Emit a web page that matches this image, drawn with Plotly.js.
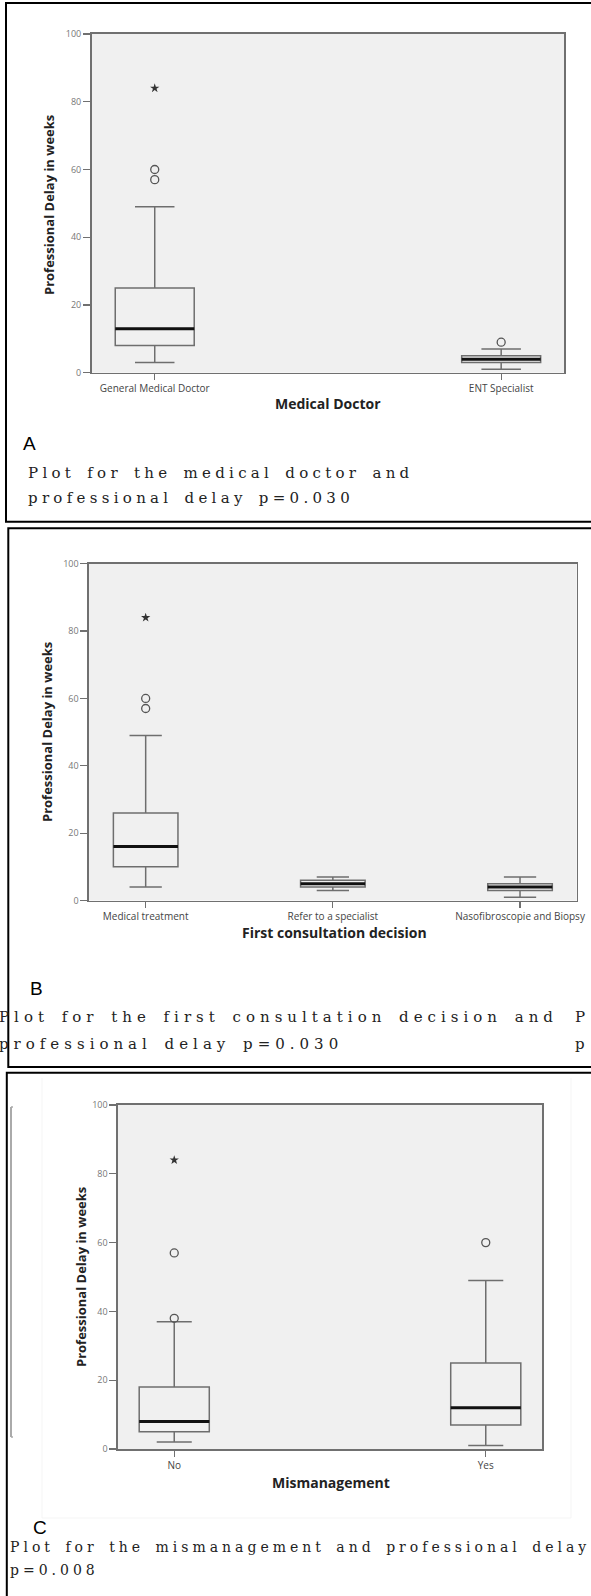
<!DOCTYPE html>
<html><head><meta charset="utf-8">
<script src="https://cdn.plot.ly/plotly-3.0.1.min.js"></script>
<style>html,body{margin:0;padding:0;background:#fff;overflow:hidden}</style>
</head><body><div id="chart" style="width:591px;height:1596px"></div>
<script>
// ---------- data ----------
const catsA = ['General Medical Doctor', 'ENT Specialist'];
const q1A = [8, 3], medA = [13, 4], q3A = [25, 5], loA = [3, 1], hiA = [49, 7];
const outXA = ['General Medical Doctor', 'General Medical Doctor', 'ENT Specialist'];
const outYA = [60, 57, 9];
const extXA = ['General Medical Doctor'], extYA = [84];

const catsB = ['Medical treatment', 'Refer to a specialist', 'Nasofibroscopie and Biopsy'];
const q1B = [10, 4, 3], medB = [16, 5, 4], q3B = [26, 6, 5], loB = [4, 3, 1], hiB = [49, 7, 7];
const outXB = ['Medical treatment', 'Medical treatment'];
const outYB = [60, 57];
const extXB = ['Medical treatment'], extYB = [84];

const catsC = ['No', 'Yes'];
const q1C = [5, 7], medC = [8, 12], q3C = [18, 25], loC = [2, 1], hiC = [37, 49];
const outXC = ['No', 'No', 'Yes'];
const outYC = [38, 57, 60];
const extXC = ['No'], extYC = [84];

const yTicks = [0, 20, 40, 60, 80, 100];
const yTitle = 'Professional Delay in weeks';

// ---------- helpers ----------
const W = 591, H = 1596;
const px = x => x / W;
const py = y => 1 - y / H;

function panelTraces(cats, q1, med, q3, lo, hi, ox, oy, ex, ey, xa, ya, wid) {
  return [
    {type: 'box', x: cats, q1: q1, median: med, q3: q3, lowerfence: lo, upperfence: hi,
     xaxis: xa, yaxis: ya, width: wid, whiskerwidth: 0.5, boxpoints: false,
     fillcolor: 'rgba(0,0,0,0)', line: {color: '#6e6e6e', width: 1.5},
     hoverinfo: 'skip', showlegend: false},
    {type: 'box', x: cats, q1: med, median: med, q3: med, lowerfence: med, upperfence: med,
     xaxis: xa, yaxis: ya, width: wid, whiskerwidth: 0, boxpoints: false,
     fillcolor: 'rgba(0,0,0,0)', line: {color: '#111', width: 3},
     hoverinfo: 'skip', showlegend: false},
    {type: 'scatter', mode: 'markers', x: ox, y: oy, xaxis: xa, yaxis: ya,
     marker: {symbol: 'circle-open', size: 8, color: '#555', line: {width: 1.3, color: '#555'}},
     hoverinfo: 'skip', showlegend: false},
    {type: 'scatter', mode: 'markers', x: ex, y: ey, xaxis: xa, yaxis: ya,
     marker: {symbol: 'star', size: 7, color: '#333'},
     hoverinfo: 'skip', showlegend: false}
  ];
}

const data = [].concat(
  panelTraces(catsA, q1A, medA, q3A, loA, hiA, outXA, outYA, extXA, extYA, 'x', 'y', 0.228),
  panelTraces(catsB, q1B, medB, q3B, loB, hiB, outXB, outYB, extXB, extYB, 'x2', 'y2', 0.345),
  panelTraces(catsC, q1C, medC, q3C, loC, hiC, outXC, outYC, extXC, extYC, 'x3', 'y3', 0.225)
);

function xAxis(dom, anchor, cats) {
  return {domain: dom, anchor: anchor, type: 'category', categoryorder: 'array', categoryarray: cats,
    showline: true, mirror: true, linecolor: '#707070', linewidth: 1.6,
    ticks: 'outside', ticklen: 6, tickcolor: '#707070', tickwidth: 1.2,
    tickfont: {family: 'Open Sans', size: 10, color: '#444'},
    showgrid: false, zeroline: false, fixedrange: true};
}
function yAxis(dom, anchor) {
  return {domain: dom, anchor: anchor, range: [0, 100], tickvals: yTicks,
    showline: true, mirror: true, linecolor: '#707070', linewidth: 1.6,
    ticks: 'outside', ticklen: 7, tickcolor: '#707070', tickwidth: 1.2,
    tickfont: {family: 'Open Sans', size: 9, color: '#777'},
    showgrid: false, zeroline: false, fixedrange: true};
}

const capFont = {family: 'DejaVu Serif', size: 15, color: '#222'};
function cap(text, x, y, sp, size) {
  return {xref: 'paper', yref: 'paper', x: px(x), y: py(y), xanchor: 'left', yanchor: 'middle',
    text: '<span style="letter-spacing:' + sp + 'px;word-spacing:3px">' + text + '</span>', showarrow: false,
    font: Object.assign({}, capFont, {size: size})};
}
function ytitle(x, y) {
  return {xref: 'paper', yref: 'paper', x: px(x), y: py(y), xanchor: 'center', yanchor: 'middle',
    text: yTitle, textangle: -90, showarrow: false,
    font: {family: 'Open Sans', size: 13, color: '#222', weight: 'bold'}};
}
function xtitle(t, x, y) {
  return {xref: 'paper', yref: 'paper', x: px(x), y: py(y), xanchor: 'center', yanchor: 'middle',
    text: '<b>' + t + '</b>', showarrow: false,
    font: {family: 'Open Sans', size: 14, color: '#222'}};
}
function letter(t, x, y) {
  return {xref: 'paper', yref: 'paper', x: px(x), y: py(y), xanchor: 'left', yanchor: 'middle',
    text: t, showarrow: false, font: {family: 'Liberation Sans', size: 19, color: '#000'}};
}
function rect(x0, y0, x1, y1, color, w) {
  return {type: 'rect', xref: 'paper', yref: 'paper', x0: px(x0), x1: px(x1), y0: py(y1), y1: py(y0),
    line: {color: color, width: w}, fillcolor: 'rgba(0,0,0,0)', layer: 'above'};
}
function line(x0, y0, x1, y1, color, w) {
  return {type: 'line', xref: 'paper', yref: 'paper', x0: px(x0), x1: px(x1), y0: py(y0), y1: py(y1),
    line: {color: color, width: w}, layer: 'below'};
}

const layout = {
  width: W, height: H, margin: {l: 0, r: 0, t: 0, b: 0},
  paper_bgcolor: '#fff', plot_bgcolor: '#f0f0f0', showlegend: false, boxmode: 'overlay',
  xaxis: xAxis([px(91.6), px(564.3)], 'y', catsA),
  yaxis: yAxis([py(372.7), py(34)], 'x'),
  xaxis2: xAxis([px(89), px(576.7)], 'y2', catsB),
  yaxis2: yAxis([py(900.5), py(563.7)], 'x2'),
  xaxis3: xAxis([px(118), px(542)], 'y3', catsC),
  yaxis3: yAxis([py(1449), py(1105)], 'x3'),
  annotations: [
    ytitle(49, 205), xtitle('Medical Doctor', 328, 404), letter('A', 21, 443),
    cap('Plot for the medical doctor and', 26, 473, 4.3, 15),
    cap('professional delay p=0.030', 26, 498, 4.3, 15),

    ytitle(47, 732), xtitle('First consultation decision', 334, 932), letter('B', 28, 988),
    cap('Plot for the first consultation decision and', -3, 1017, 5.0, 15),
    cap('professional delay p=0.030', -3, 1044, 5.0, 15),
    cap('P', 573, 1017, 5.0, 15),
    cap('p', 573, 1044, 5.0, 15),

    ytitle(81, 1277), xtitle('Mismanagement', 331, 1482), letter('C', 31, 1527),
    cap('Plot for the mismanagement and professional delay', 8, 1547, 4.0, 14),
    cap('p=0.008', 8, 1570, 4.0, 14)
  ],
  shapes: [
    rect(6, 3, 620, 521.7, '#000', 2),
    rect(8.3, 528.3, 620, 1067, '#000', 2),
    rect(6.8, 1072.7, 620, 1620, '#000', 2),
    line(11, 1107, 11, 1437, '#aaaaaa', 2),
    line(11, 1107, 13, 1107, '#aaaaaa', 1.5),
    line(11, 1437, 13, 1437, '#aaaaaa', 1.5),
    line(42, 1078, 42, 1518, '#f5f5f5', 1),
    line(571, 1078, 571, 1518, '#f5f5f5', 1),
    line(42, 1518, 571, 1518, '#f5f5f5', 1)
  ]
};

Plotly.newPlot('chart', data, layout, {staticPlot: true, displayModeBar: false});
</script>
</body></html>
